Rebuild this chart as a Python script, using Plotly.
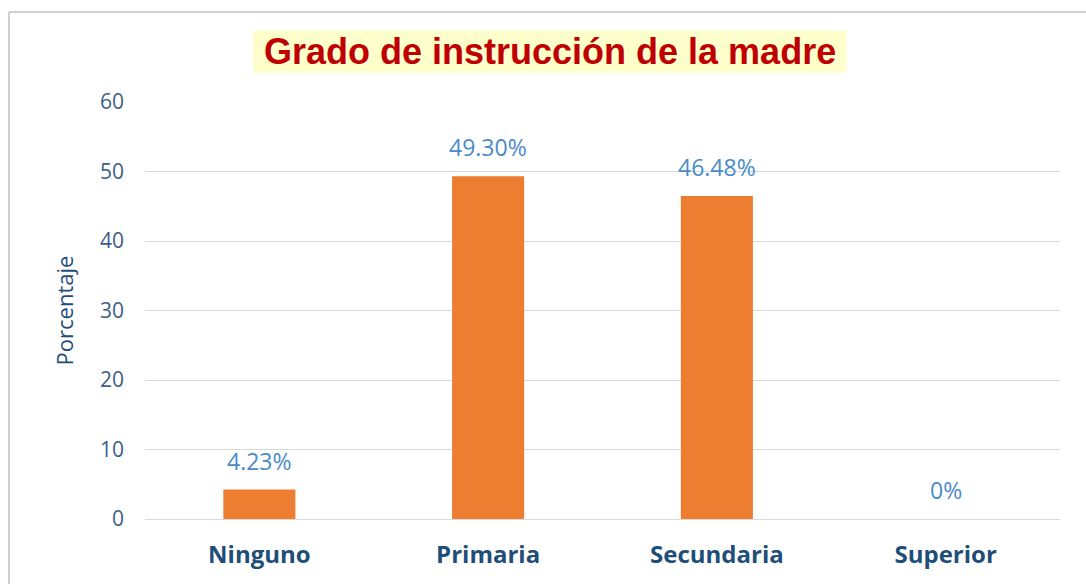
import plotly.graph_objects as go

categories = ["Ninguno", "Primaria", "Secundaria", "Superior"]
values = [4.23, 49.30, 46.48, 0]
labels = ["4.23%", "49.30%", "46.48%", "0%"]
y_ticks = [0, 10, 20, 30, 40, 50, 60]

W, H = 1086, 584
L, R, T, B = 145, 26, 102, 65
pw, ph = W - L - R, H - T - B

FONT = "Open Sans, Lato, sans-serif"

def px_x(x):
    return (x - L) / pw

def px_y(y):
    return (H - B - y) / ph

fig = go.Figure()
fig.add_trace(go.Bar(
    x=categories, y=values,
    marker=dict(color="#ED7D31", line=dict(width=0)),
    width=0.315,
    hoverinfo="skip",
))

for c, v, t in zip(categories, values, labels):
    fig.add_annotation(
        x=c, y=v, text=t, showarrow=False, yanchor="bottom", yshift=11,
        font=dict(family=FONT, size=23, color="#4A8BC9"),
    )

fig.add_annotation(
    xref="paper", yref="paper", x=px_x(550), y=px_y(51),
    text="&nbsp;<b>Grado de instrucción de la madre</b>&nbsp;", showarrow=False,
    xanchor="center", yanchor="middle",
    font=dict(family="Liberation Sans, Arial, sans-serif", size=36, color="#C00000"),
    bgcolor="#FFFFCC", borderpad=0,
)

# outer frame
fig.add_shape(type="line", xref="paper", yref="paper",
              x0=px_x(9), x1=px_x(9), y0=px_y(12), y1=px_y(600),
              line=dict(color="#D0D0D0", width=2))
fig.add_shape(type="line", xref="paper", yref="paper",
              x0=px_x(9), x1=px_x(1100), y0=px_y(12), y1=px_y(12),
              line=dict(color="#D0D0D0", width=2))

fig.update_layout(
    width=W, height=H,
    margin=dict(l=L, r=R, t=T, b=B),
    paper_bgcolor="white", plot_bgcolor="white",
    showlegend=False,
    xaxis=dict(
        showgrid=False, showline=False, zeroline=False,
        tickfont=dict(family=FONT, size=24, color="#1F4E79", weight="bold"),
        ticklabelstandoff=19,
    ),
    yaxis=dict(
        range=[0, 60], tickvals=y_ticks,
        showgrid=True, gridcolor="#D9D9D9", gridwidth=1,
        zeroline=True, zerolinecolor="#D9D9D9", zerolinewidth=1,
        showline=False,
        tickfont=dict(family=FONT, size=21, color="#3B6089"),
        ticklabelstandoff=20,
        title=dict(text="Porcentaje", standoff=20,
                   font=dict(family=FONT, size=22, color="#1F4E79")),
    ),
)

fig.write_html(
    "out.html",
    config={"displayModeBar": False},
    post_script="document.body.style.margin='0';document.body.style.overflow='hidden';",
)
